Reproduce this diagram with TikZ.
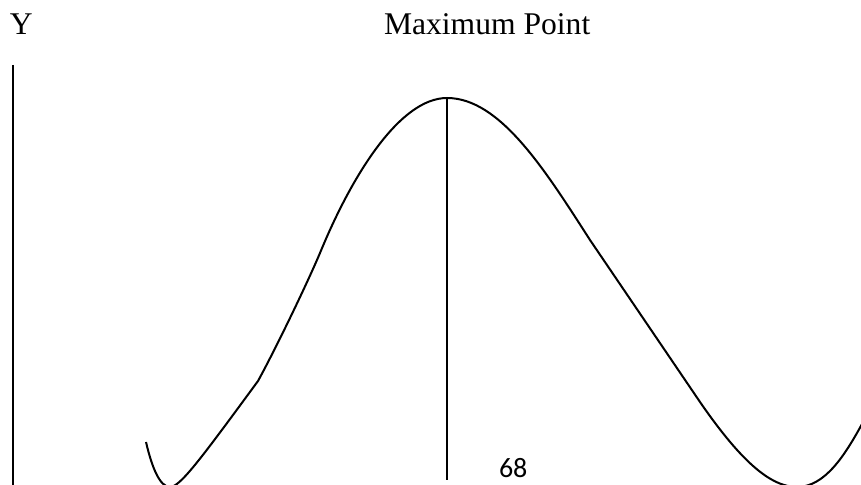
\documentclass[tikz,border=0pt]{standalone}
\usepackage{fontspec}
\setmainfont{Liberation Serif}
\newfontfamily\pagefont{Carlito}
\usetikzlibrary{positioning}

\begin{document}
\begin{tikzpicture}[
		x=0.5pt, y=-0.5pt,
		line width=1pt,
		label/.style={
			inner sep=0pt,
			anchor=base west,
			font=\fontsize{15.8}{19}\selectfont
		}
		]
		
		\useasboundingbox (0,0) rectangle (861,485);
		
		\node[label] (ylabel) at (9,35) {Y};
		\node[label] (maxlabel) at (383,35) {Maximum Point};
		\node[label, font=\pagefont\fontsize{14}{16}\selectfont] (pagenum) at (498,478) {68};
		
		\coordinate (axistop) at (12.5,65);
		\coordinate (axisbot) at (12.5,486);
		\coordinate (peak) at (447,98);
		\coordinate (peakfoot) at (447,480);
		\coordinate (leftmin) at (170,487);
		\coordinate (kink) at (258,381);
		\coordinate (rightmin) at (797,487);
		
		\draw (axistop)--(axisbot);
		\draw (peak)--(peakfoot);
		
		% the curve
		\draw (146,442) .. controls (152,468) and (160,487) .. (leftmin)
			.. controls (180,487) and (200,460) .. (kink)
			.. controls (275,350) and (306,286) .. (320,253)
			.. controls (352,175) and (400,98) .. (peak)
			.. controls (500,98) and (545,170) .. (590,240)
			-- (700,402)
			.. controls (740,460) and (770,487) .. (rightmin)
			.. controls (825,487) and (845,455) .. (862,424);
		
	\end{tikzpicture}
\end{document}
